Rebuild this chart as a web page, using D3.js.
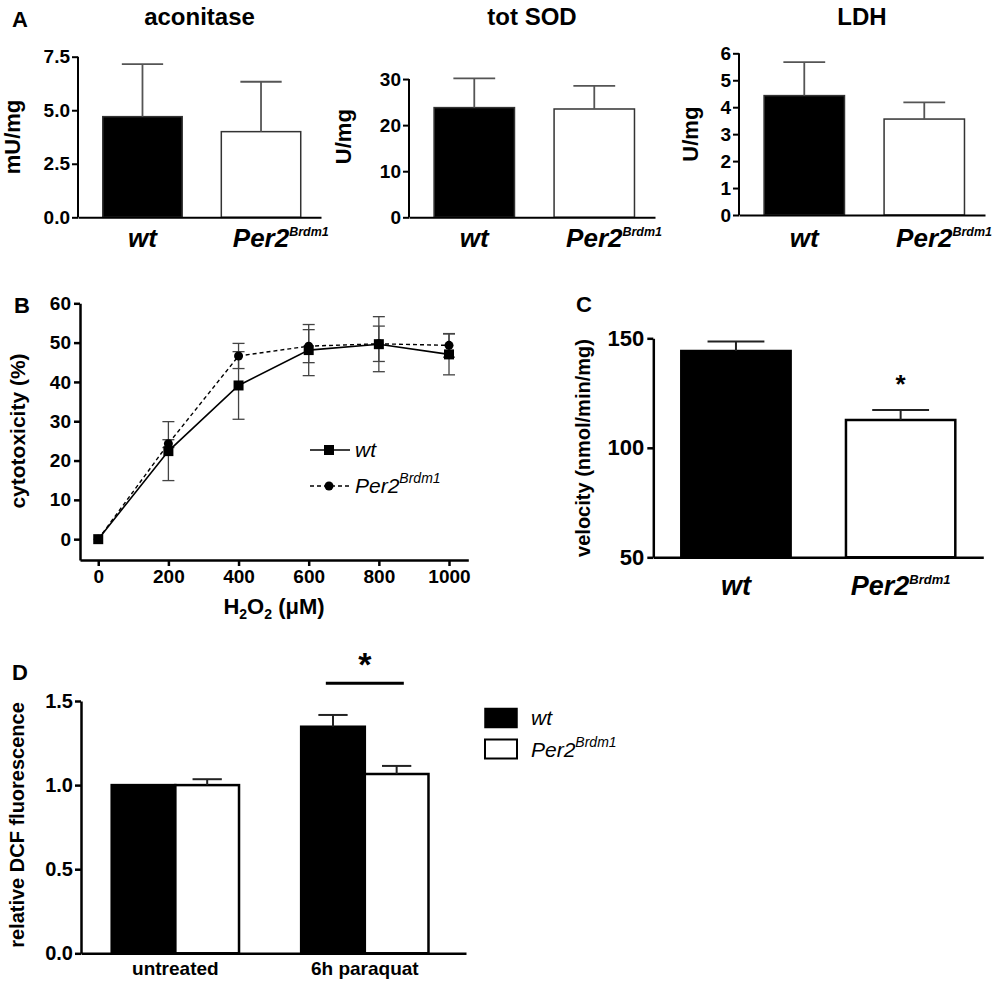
<!DOCTYPE html>
<html>
<head>
<meta charset="utf-8">
<script src="https://cdn.jsdelivr.net/npm/d3@7"></script>
<style>
  body { margin: 0; background: #fff; }
  svg { display: block; font-family: "Liberation Sans", Arial, sans-serif; }
</style>
</head>
<body>
<script>
// ---------------- DATA ----------------
const genotypes = ["wt", "Per2"];

const aconitaseMean = [4.70, 4.00];
const aconitaseErr  = [2.45, 2.33];
const aconitaseTicks = [0, 2.5, 5.0, 7.5];

const sodMean = [23.8, 23.5];
const sodErr  = [6.35, 5.0];
const sodTicks = [0, 10, 20, 30];

const ldhMean = [4.43, 3.56];
const ldhErr  = [1.24, 0.62];
const ldhTicks = [0, 1, 2, 3, 4, 5, 6];

const doses = [0, 200, 400, 600, 800, 1000];
const cytoWt      = [0, 22.4, 39.1, 48.1, 49.6, 47.0];
const cytoWtErr   = [0, 7.5, 8.6, 6.5, 7.0, 5.2];
const cytoPer2    = [0, 24.3, 46.6, 49.1, 49.7, 49.3];
const cytoPer2Err = [0, 1.0, 3.2, 4.2, 4.5, 3.0];
const cytoTicks = [0, 10, 20, 30, 40, 50, 60];

const velocityMean = [144.2, 112.7];
const velocityErr  = [4.3, 4.6];
const velocityTicks = [50, 100, 150];

const conditions = ["untreated", "6h paraquat"];
const dcfWt      = [1.0, 1.347];
const dcfWtErr   = [0, 0.07];
const dcfPer2    = [1.0, 1.066];
const dcfPer2Err = [0.035, 0.048];
const dcfTicks = [0, 0.5, 1.0, 1.5];

// ---------------- SETUP ----------------
const W = 992, H = 985;
const svg = d3.select("body").append("svg").attr("width", W).attr("height", H);
const FONT = "Liberation Sans, Arial, sans-serif";

function styleAxis(g, sw, fs) {
  g.select(".domain").attr("stroke", "#000").attr("stroke-width", sw);
  g.selectAll(".tick line").attr("stroke", "#000").attr("stroke-width", sw);
  g.selectAll(".tick text").attr("fill", "#000").attr("font-size", fs)
    .attr("font-weight", "bold").attr("font-family", FONT);
}

function genoLabel(parent, name, cx, y, size, supSize, supDy, weight, centerMain) {
  const t = parent.append("text").attr("y", y).attr("font-size", size)
    .attr("font-weight", weight).attr("font-style", "italic").attr("fill", "#000")
    .attr("font-family", FONT);
  if (name === "wt") {
    t.attr("x", cx).attr("text-anchor", "middle").text("wt");
    return t;
  }
  const main = t.append("tspan").text("Per2");
  t.append("tspan").attr("font-size", supSize).attr("dy", supDy).text("Brdm1");
  const mainW = main.node().getComputedTextLength();
  const totW = t.node().getComputedTextLength();
  t.attr("x", centerMain ? cx - mainW / 2 : cx - totW / 2);
  return t;
}

function panelLetter(txt, x, y) {
  svg.append("text").attr("x", x).attr("y", y).attr("font-size", 22)
    .attr("font-weight", "bold").attr("font-family", FONT).text(txt);
}

function yLabel(txt, x, y, size) {
  svg.append("text").attr("transform", `translate(${x},${y}) rotate(-90)`)
    .attr("text-anchor", "middle").attr("font-size", size).attr("font-weight", "bold")
    .attr("font-family", FONT).text(txt);
}

// ---------------- PANEL A ----------------
function smallBar(cfg) {
  const g = svg.append("g");
  const y = d3.scaleLinear().domain([0, cfg.max]).range([cfg.yBottom, cfg.yTop]);
  const x = d3.scaleBand().domain(genotypes).range([cfg.x0, cfg.x1])
    .paddingInner(0.33).paddingOuter(0.19).align(0.55);
  g.selectAll("rect.bar").data(genotypes).join("rect")
    .attr("x", d => x(d)).attr("width", x.bandwidth())
    .attr("y", (d, i) => y(cfg.mean[i]))
    .attr("height", (d, i) => y(0) - y(cfg.mean[i]))
    .attr("fill", (d, i) => i === 0 ? "#000" : "#fff")
    .attr("stroke", "#333").attr("stroke-width", 1.5);
  const cw = x.bandwidth() * 0.52;
  genotypes.forEach((d, i) => {
    const cx = x(d) + x.bandwidth() / 2;
    g.append("line").attr("x1", cx).attr("x2", cx)
      .attr("y1", y(cfg.mean[i])).attr("y2", y(cfg.mean[i] + cfg.err[i]))
      .attr("stroke", "#555").attr("stroke-width", 1.8);
    g.append("line").attr("x1", cx - cw / 2).attr("x2", cx + cw / 2)
      .attr("y1", y(cfg.mean[i] + cfg.err[i])).attr("y2", y(cfg.mean[i] + cfg.err[i]))
      .attr("stroke", "#555").attr("stroke-width", 1.8);
  });
  const ya = g.append("g").attr("transform", `translate(${cfg.x0},0)`)
    .call(d3.axisLeft(y).tickValues(cfg.ticks).tickFormat(cfg.fmt).tickSize(6).tickSizeOuter(0).tickPadding(2));
  ya.select(".domain").attr("d", `M0,${y(0)}V${y(cfg.ticks[cfg.ticks.length - 1])}`);
  styleAxis(ya, 2, 19);
  const xa = g.append("g").attr("transform", `translate(0,${y(0)})`)
    .call(d3.axisBottom(x).tickSize(0).tickSizeOuter(0).tickFormat(""));
  styleAxis(xa, 2, 19);
  genotypes.forEach(d => {
    genoLabel(svg, d, x(d) + x.bandwidth() / 2, 247, 26, 12.5, -11, "bold", true);
  });
  svg.append("text").attr("x", (cfg.x0 + cfg.x1) / 2).attr("y", 25)
    .attr("text-anchor", "middle").attr("font-size", 24).attr("font-weight", "bold")
    .attr("font-family", FONT).text(cfg.title);
  yLabel(cfg.ylab, cfg.ylabX, (cfg.yTop + cfg.yBottom) / 2, 22);
}

smallBar({ x0: 78, x1: 321, yTop: 56.7, yBottom: 217.3, max: 7.5, ticks: aconitaseTicks,
  fmt: d3.format(".1f"), mean: aconitaseMean, err: aconitaseErr, title: "aconitase",
  ylab: "mU/mg", ylabX: 20 });
smallBar({ x0: 409, x1: 655, yTop: 56, yBottom: 217.3, max: 35, ticks: sodTicks,
  fmt: d3.format("d"), mean: sodMean, err: sodErr, title: "tot SOD",
  ylab: "U/mg", ylabX: 351 });
smallBar({ x0: 739, x1: 985, yTop: 53.3, yBottom: 215, max: 6, ticks: ldhTicks,
  fmt: d3.format("d"), mean: ldhMean, err: ldhErr, title: "LDH",
  ylab: "U/mg", ylabX: 698 });
panelLetter("A", 12, 27);

// ---------------- PANEL B ----------------
(function () {
  const g = svg.append("g");
  const x = d3.scaleLinear().domain([-52, 1055]).range([80, 468.3]);
  const y = d3.scaleLinear().domain([-5.3, 60]).range([560, 303.3]);
  const wtData = doses.map((d, i) => ({ dose: d, v: cytoWt[i], e: cytoWtErr[i] }));
  const pData = doses.map((d, i) => ({ dose: d, v: cytoPer2[i], e: cytoPer2Err[i] }));
  const cap = 6;
  [wtData, pData].forEach(data => {
    data.filter(d => d.e > 0).forEach(d => {
      const cx = x(d.dose);
      g.append("line").attr("x1", cx).attr("x2", cx).attr("y1", y(d.v - d.e)).attr("y2", y(d.v + d.e))
        .attr("stroke", "#444").attr("stroke-width", 1.3);
      [d.v - d.e, d.v + d.e].forEach(v => {
        g.append("line").attr("x1", cx - cap).attr("x2", cx + cap).attr("y1", y(v)).attr("y2", y(v))
          .attr("stroke", "#444").attr("stroke-width", 1.3);
      });
    });
  });
  const line = d3.line().x(d => x(d.dose)).y(d => y(d.v));
  g.append("path").datum(pData).attr("d", line).attr("fill", "none")
    .attr("stroke", "#000").attr("stroke-width", 1.4).attr("stroke-dasharray", "4,3");
  g.append("path").datum(wtData).attr("d", line).attr("fill", "none")
    .attr("stroke", "#000").attr("stroke-width", 1.6);
  g.selectAll("circle.p").data(pData).join("circle")
    .attr("cx", d => x(d.dose)).attr("cy", d => y(d.v)).attr("r", 4.5).attr("fill", "#000");
  g.selectAll("rect.w").data(wtData).join("rect")
    .attr("x", d => x(d.dose) - 5).attr("y", d => y(d.v) - 5).attr("width", 10).attr("height", 10)
    .attr("fill", "#000");
  const ya = g.append("g").attr("transform", "translate(80,0)")
    .call(d3.axisLeft(y).tickValues(cytoTicks).tickSize(6).tickSizeOuter(0).tickPadding(3));
  styleAxis(ya, 2.5, 19);
  const xa = g.append("g").attr("transform", "translate(0,560)")
    .call(d3.axisBottom(x).tickValues(doses).tickFormat(d3.format("d")).tickSize(6).tickSizeOuter(0).tickPadding(4));
  styleAxis(xa, 2.5, 19);
  const lg = svg.append("g");
  lg.append("line").attr("x1", 310).attr("x2", 350).attr("y1", 450).attr("y2", 450)
    .attr("stroke", "#000").attr("stroke-width", 1.5);
  lg.append("rect").attr("x", 324).attr("y", 445).attr("width", 10).attr("height", 10).attr("fill", "#000");
  lg.append("line").attr("x1", 310).attr("x2", 350).attr("y1", 486).attr("y2", 486)
    .attr("stroke", "#000").attr("stroke-width", 1.3).attr("stroke-dasharray", "4,3");
  lg.append("circle").attr("cx", 329).attr("cy", 486).attr("r", 4.5).attr("fill", "#000");
  lg.append("text").attr("x", 355).attr("y", 457).attr("font-size", 21).attr("font-style", "italic")
    .attr("font-family", FONT).text("wt");
  const pt = lg.append("text").attr("x", 355).attr("y", 493).attr("font-size", 21)
    .attr("font-style", "italic").attr("font-family", FONT);
  pt.append("tspan").text("Per2");
  pt.append("tspan").attr("font-size", 14).attr("dy", -10.5).text("Brdm1");
  const xl = svg.append("text").attr("x", 274).attr("y", 614).attr("text-anchor", "middle")
    .attr("font-size", 22).attr("font-weight", "bold").attr("font-family", FONT);
  xl.append("tspan").text("H");
  xl.append("tspan").attr("font-size", 14).attr("dy", 5).text("2");
  xl.append("tspan").attr("dy", -5).text("O");
  xl.append("tspan").attr("font-size", 14).attr("dy", 5).text("2");
  xl.append("tspan").attr("dy", -5).text(" (\u03BCM)");
  yLabel("cytotoxicity (%)", 25, 431, 21);
  panelLetter("B", 14, 313);
})();

// ---------------- PANEL C ----------------
(function () {
  const g = svg.append("g");
  const x = d3.scaleBand().domain(genotypes).range([653.3, 983.3])
    .paddingInner(0.336).paddingOuter(0.17);
  const y = d3.scaleLinear().domain([50, 150]).range([557.3, 338.3]);
  g.selectAll("rect").data(genotypes).join("rect")
    .attr("x", d => x(d)).attr("width", x.bandwidth())
    .attr("y", (d, i) => y(velocityMean[i]))
    .attr("height", (d, i) => y(50) - y(velocityMean[i]))
    .attr("fill", (d, i) => i === 0 ? "#000" : "#fff")
    .attr("stroke", "#000").attr("stroke-width", 2.5);
  const cw = x.bandwidth() * 0.52;
  genotypes.forEach((d, i) => {
    const cx = x(d) + x.bandwidth() / 2;
    const top = y(velocityMean[i] + velocityErr[i]);
    g.append("line").attr("x1", cx).attr("x2", cx).attr("y1", y(velocityMean[i])).attr("y2", top)
      .attr("stroke", "#222").attr("stroke-width", 2);
    g.append("line").attr("x1", cx - cw / 2).attr("x2", cx + cw / 2).attr("y1", top).attr("y2", top)
      .attr("stroke", "#222").attr("stroke-width", 2);
  });
  const ya = g.append("g").attr("transform", "translate(653.3,0)")
    .call(d3.axisLeft(y).tickValues(velocityTicks).tickSize(6).tickSizeOuter(0).tickPadding(3));
  styleAxis(ya, 2.5, 22);
  const xa = g.append("g").attr("transform", `translate(0,${y(50)})`)
    .call(d3.axisBottom(x).tickSize(0).tickSizeOuter(0).tickFormat(""));
  styleAxis(xa, 2.5, 22);
  genotypes.forEach(d => {
    genoLabel(svg, d, x(d) + x.bandwidth() / 2, 595, 27, 13, -11.5, "bold", false);
  });
  svg.append("text").attr("x", x("Per2") + x.bandwidth() / 2).attr("y", 393)
    .attr("text-anchor", "middle").attr("font-size", 26).attr("font-weight", "bold")
    .attr("font-family", FONT).text("*");
  yLabel("velocity (nmol/min/mg)", 590, 448, 20);
  panelLetter("C", 576, 312);
})();

// ---------------- PANEL D ----------------
(function () {
  const g = svg.append("g");
  const x0 = d3.scaleBand().domain(conditions).range([81, 466])
    .paddingInner(0.328).paddingOuter(0.18).align(0.45);
  const x1 = d3.scaleBand().domain(genotypes).range([0, x0.bandwidth()]);
  const y = d3.scaleLinear().domain([0, 1.5]).range([953.3, 701]);
  const series = [
    { key: "wt", mean: dcfWt, err: dcfWtErr, fill: "#000" },
    { key: "Per2", mean: dcfPer2, err: dcfPer2Err, fill: "#fff" }
  ];
  const cw = x1.bandwidth() * 0.46;
  conditions.forEach((c, ci) => {
    series.forEach(s => {
      const bx = x0(c) + x1(s.key);
      g.append("rect").attr("x", bx).attr("width", x1.bandwidth())
        .attr("y", y(s.mean[ci])).attr("height", y(0) - y(s.mean[ci]))
        .attr("fill", s.fill).attr("stroke", "#000").attr("stroke-width", 2.5);
      if (s.err[ci] > 0) {
        const cx = bx + x1.bandwidth() / 2;
        const top = y(s.mean[ci] + s.err[ci]);
        g.append("line").attr("x1", cx).attr("x2", cx).attr("y1", y(s.mean[ci])).attr("y2", top)
          .attr("stroke", "#222").attr("stroke-width", 2);
        g.append("line").attr("x1", cx - cw / 2).attr("x2", cx + cw / 2).attr("y1", top).attr("y2", top)
          .attr("stroke", "#222").attr("stroke-width", 2);
      }
    });
  });
  const ya = g.append("g").attr("transform", "translate(81,0)")
    .call(d3.axisLeft(y).tickValues(dcfTicks).tickFormat(d3.format(".1f")).tickSize(6).tickSizeOuter(0).tickPadding(2));
  styleAxis(ya, 2.5, 20);
  const xa = g.append("g").attr("transform", `translate(0,${y(0)})`)
    .call(d3.axisBottom(x0).tickSize(0).tickSizeOuter(0).tickPadding(10));
  styleAxis(xa, 2.5, 19);
  xa.selectAll(".tick text").attr("dy", "0.71em").attr("y", 8);
  const pc = x0("6h paraquat") + x0.bandwidth() / 2;
  svg.append("line").attr("x1", pc - 39).attr("x2", pc + 39).attr("y1", 683.3).attr("y2", 683.3)
    .attr("stroke", "#000").attr("stroke-width", 3);
  svg.append("text").attr("x", pc).attr("y", 676).attr("text-anchor", "middle")
    .attr("font-size", 34).attr("font-weight", "bold").attr("font-family", FONT).text("*");
  yLabel("relative DCF fluorescence", 24, 825, 20);
  panelLetter("D", 12, 680);
  const lg = svg.append("g");
  lg.append("rect").attr("x", 485).attr("y", 708.5).attr("width", 32).attr("height", 19)
    .attr("fill", "#000").attr("stroke", "#000").attr("stroke-width", 1.5);
  lg.append("rect").attr("x", 485).attr("y", 739.5).attr("width", 32).attr("height", 19)
    .attr("fill", "#fff").attr("stroke", "#000").attr("stroke-width", 2);
  lg.append("text").attr("x", 531).attr("y", 725).attr("font-size", 21).attr("font-style", "italic")
    .attr("font-family", FONT).text("wt");
  const pt = lg.append("text").attr("x", 531).attr("y", 757).attr("font-size", 21)
    .attr("font-style", "italic").attr("font-family", FONT);
  pt.append("tspan").text("Per2");
  pt.append("tspan").attr("font-size", 14).attr("dy", -10.5).text("Brdm1");
})();
</script>
</body>
</html>
